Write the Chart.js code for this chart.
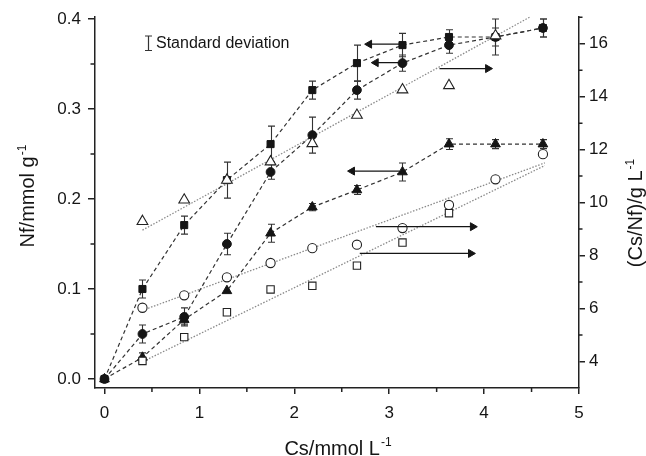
<!DOCTYPE html>
<html><head><meta charset="utf-8">
<script src="https://cdn.jsdelivr.net/npm/chart.js@4.4.0/dist/chart.umd.min.js"></script>
<style>html,body{margin:0;padding:0;background:#fff}#wrap{width:646px;height:456px;position:relative}</style>
</head><body><div id="wrap"><canvas id="c" width="646" height="456"></canvas></div>
<script>
// ---- data ----
const CS = [0, 0.40, 0.84, 1.29, 1.75, 2.19, 2.66, 3.14, 3.63, 4.12, 4.62];
// left axis: Nf (mmol/g), filled markers
const NF_SQ = [0, 0.100, 0.171, 0.221, 0.261, 0.321, 0.351, 0.371, 0.380, 0.380, 0.390];
const SD_SQ = [0, 0.010, 0.010, 0.020, 0.020, 0.010, 0.020, 0.013, 0.008, 0.020, 0.010];
const NF_CI = [0, 0.050, 0.069, 0.150, 0.230, 0.271, 0.321, 0.351, 0.371, 0.380, 0.390];
const SD_CI = [0, 0.010, 0.010, 0.012, 0.008, 0.020, 0.010, 0.009, 0.009, 0.010, 0.010];
const NF_TR = [0, 0.024, 0.066, 0.098, 0.162, 0.191, 0.210, 0.230, 0.261, 0.261, 0.261];
const SD_TR = [0, 0.005, 0.005, 0, 0.010, 0.004, 0.005, 0.010, 0.006, 0.005, 0.005];
// right axis: Cs/Nf (g/L), open markers
const CSNF_TR = [null, 9.29, 10.10, 10.85, 11.54, 12.23, 13.30, 14.26, 14.42, 16.30, null];
const CSNF_CI = [null, 6.03, 6.50, 7.18, 7.72, 8.28, 8.41, 9.04, 9.91, 10.88, 11.83];
const CSNF_SQ = [null, 4.02, 4.92, 5.86, 6.72, 6.86, 7.62, 8.49, 9.60, null, null];
// dotted linear fits (end points)
const FIT_TR_X = [0.40, 4.48], FIT_TR_Y = [8.96, 17.0];
const FIT_CI_X = [0.46, 4.64], FIT_CI_Y = [6.01, 11.50];
const FIT_SQ_X = [0.44, 4.64], FIT_SQ_Y = [4.06, 11.40];
// arrows pointing to the relevant axis
const ARROW_TAIL_X = [3.11, 3.11, 3.11, 3.53, 2.86, 2.69];
const ARROW_HEAD_X = [2.79, 2.86, 2.61, 4.04, 3.88, 3.86];
const ARROW_Y      = [0.372, 0.3515, 0.231, 15.06, 9.09, 8.08];
const ARROW_AXIS   = ['y', 'y', 'y', 'y2', 'y2', 'y2'];
// ticks
const X_TICKS = [0, 1, 2, 3, 4, 5];
const X_MINOR = [0.5, 1.5, 2.5, 3.5, 4.5];
const Y_TICKS = [0, 0.1, 0.2, 0.3, 0.4];
const Y_MINOR = [0.05, 0.15, 0.25, 0.35];
const Y2_TICKS = [4, 6, 8, 10, 12, 14, 16];
const Y2_MINOR = [5, 7, 9, 11, 13, 15, 17];
// texts
const X_TITLE = ['Cs/mmol L', '-1'];
const Y_TITLE = ['Nf/mmol g', '-1'];
const Y2_TITLE = ['(Cs/Nf)/g L', '-1'];
const LEGEND_TEXT = 'Standard deviation';

const FONT = "'Liberation Sans', Arial, sans-serif";
const INK = '#151515';

const pts = (xs, ys) => xs.map((x, i) => ({x, y: ys[i]})).filter(p => p.y !== null);

const datasets = [];
// fits
[[FIT_TR_X, FIT_TR_Y], [FIT_CI_X, FIT_CI_Y], [FIT_SQ_X, FIT_SQ_Y]].forEach(([xs, ys]) => {
  datasets.push({type: 'line', data: pts(xs, ys), yAxisID: 'y2', borderColor: '#8a8a8a', borderWidth: 1.3,
    borderDash: [1.5, 1.6], pointRadius: 0, order: 20, clip: false});
});
// filled series
const filled = [
  [NF_SQ, 'rect', 5],
  [NF_CI, 'circle', 4.4],
  [NF_TR, 'triangle', 5.6]
];
filled.forEach(([ys, style, r]) => {
  datasets.push({type: 'line', data: pts(CS, ys), yAxisID: 'y', borderColor: '#333', borderWidth: 1.2,
    borderDash: [4, 3], pointStyle: style, pointRadius: r, pointBackgroundColor: INK,
    pointBorderColor: INK, pointBorderWidth: 1, order: 10});
});
// open series
const open = [
  [CSNF_SQ, 'rect', 5.2],
  [CSNF_CI, 'circle', 4.6],
  [CSNF_TR, 'triangle', 6.2]
];
open.forEach(([ys, style, r]) => {
  datasets.push({type: 'line', data: pts(CS, ys), yAxisID: 'y2', showLine: false,
    pointStyle: style, pointRadius: r, pointBackgroundColor: '#fff',
    pointBorderColor: '#222', pointBorderWidth: 1.1, order: 5});
});
// arrows
ARROW_TAIL_X.forEach((tx, i) => {
  const hx = ARROW_HEAD_X[i];
  datasets.push({type: 'line', yAxisID: ARROW_AXIS[i],
    data: [{x: tx, y: ARROW_Y[i]}, {x: hx, y: ARROW_Y[i]}],
    borderColor: INK, borderWidth: 1.3, pointStyle: 'triangle',
    pointRadius: [0, 4.6], pointRotation: [0, hx > tx ? 90 : -90],
    pointBackgroundColor: INK, pointBorderColor: INK, pointBorderWidth: 1, order: 1});
});

const errorBars = {
  id: 'errorBars',
  beforeDatasetsDraw(chart) {
    const ctx = chart.ctx, xs = chart.scales.x, ys = chart.scales.y;
    ctx.save();
    ctx.strokeStyle = '#333'; ctx.lineWidth = 1.1;
    [[NF_SQ, SD_SQ], [NF_CI, SD_CI], [NF_TR, SD_TR]].forEach(([v, sd]) => {
      CS.forEach((x, i) => {
        if (!sd[i]) return;
        const px = Math.round(xs.getPixelForValue(x)) + 0.5;
        const t = ys.getPixelForValue(v[i] + sd[i]), b = ys.getPixelForValue(v[i] - sd[i]);
        ctx.beginPath();
        ctx.moveTo(px, t); ctx.lineTo(px, b);
        ctx.moveTo(px - 3.5, t); ctx.lineTo(px + 3.5, t);
        ctx.moveTo(px - 3.5, b); ctx.lineTo(px + 3.5, b);
        ctx.stroke();
      });
    });
    ctx.restore();
  }
};

function supText(ctx, cx, cy, rot, parts, size) {
  ctx.save();
  ctx.translate(cx, cy); ctx.rotate(rot);
  ctx.fillStyle = INK; ctx.textAlign = 'left'; ctx.textBaseline = 'alphabetic';
  ctx.font = size + 'px ' + FONT;
  const w1 = ctx.measureText(parts[0]).width;
  const ss = Math.round(size * 0.6);
  ctx.font = ss + 'px ' + FONT;
  const w2 = ctx.measureText(parts[1]).width;
  const x0 = -(w1 + w2 + 1) / 2;
  ctx.font = size + 'px ' + FONT;
  ctx.fillText(parts[0], x0, size * 0.36);
  ctx.font = ss + 'px ' + FONT;
  ctx.fillText(parts[1], x0 + w1 + 1, size * 0.36 - size * 0.42);
  ctx.restore();
}

const decor = {
  id: 'decor',
  afterDraw(chart) {
    const ctx = chart.ctx, a = chart.chartArea;
    const xs = chart.scales.x, ys = chart.scales.y, y2 = chart.scales.y2;
    ctx.save();
    ctx.strokeStyle = '#222'; ctx.lineWidth = 1.5;
    ctx.beginPath();
    X_MINOR.forEach(v => { const p = xs.getPixelForValue(v); ctx.moveTo(p, a.bottom); ctx.lineTo(p, a.bottom + 4); });
    Y_MINOR.forEach(v => { const p = ys.getPixelForValue(v); ctx.moveTo(a.left, p); ctx.lineTo(a.left - 4.5, p); });
    Y2_MINOR.forEach(v => { const p = y2.getPixelForValue(v); ctx.moveTo(a.right, p); ctx.lineTo(a.right + 3.5, p); });
    ctx.stroke();
    // legend: error bar symbol + text
    ctx.strokeStyle = '#333'; ctx.lineWidth = 1.2;
    ctx.beginPath();
    ctx.moveTo(148.5, 36); ctx.lineTo(148.5, 50.5);
    ctx.moveTo(145, 36); ctx.lineTo(152, 36);
    ctx.moveTo(145, 50.5); ctx.lineTo(152, 50.5);
    ctx.stroke();
    ctx.fillStyle = INK; ctx.font = '16px ' + FONT; ctx.textAlign = 'left'; ctx.textBaseline = 'middle';
    ctx.fillText(LEGEND_TEXT, 156, 43.5);
    ctx.restore();
    // axis titles
    supText(ctx, 338, 447.5, 0, X_TITLE, 20);
    supText(ctx, 27, 196, -Math.PI / 2, Y_TITLE, 20);
    supText(ctx, 635, 213, -Math.PI / 2, Y2_TITLE, 20);
  }
};

const tickFont = {family: FONT, size: 17};
new Chart(document.getElementById('c'), {
  type: 'line',
  data: {datasets},
  plugins: [errorBars, decor],
  options: {
    responsive: false, animation: false, devicePixelRatio: 1,
    layout: {padding: {top: 17, left: 0, right: 0, bottom: 0}},
    plugins: {legend: {display: false}, tooltip: {enabled: false}},
    scales: {
      x: {type: 'linear', position: 'bottom', min: -0.1, max: 5,
        afterBuildTicks: s => { s.ticks = X_TICKS.map(v => ({value: v})); },
        afterFit: s => { s.height = 68; },
        grid: {drawOnChartArea: false, tickLength: 6, color: '#222', lineWidth: 1.5},
        border: {color: '#222', width: 1.5},
        ticks: {font: tickFont, color: INK, padding: 9, maxRotation: 0, autoSkip: false, callback: v => String(v)}},
      y: {type: 'linear', position: 'left', min: -0.01, max: 0.402,
        afterBuildTicks: s => { s.ticks = Y_TICKS.map(v => ({value: v})); },
        afterFit: s => { s.width = 95; },
        grid: {drawOnChartArea: false, tickLength: 7, color: '#222', lineWidth: 1.5},
        border: {color: '#222', width: 1.5},
        ticks: {font: tickFont, color: INK, padding: 7, callback: v => Number(v).toFixed(1)}},
      y2: {type: 'linear', position: 'right', min: 3, max: 17,
        afterBuildTicks: s => { s.ticks = Y2_TICKS.map(v => ({value: v})); },
        afterFit: s => { s.width = 67; },
        grid: {drawOnChartArea: false, tickLength: 6, color: '#222', lineWidth: 1.5},
        border: {color: '#222', width: 1.5},
        ticks: {font: tickFont, color: INK, padding: 4, callback: v => String(v)}}
    }
  }
});
</script></body></html>
